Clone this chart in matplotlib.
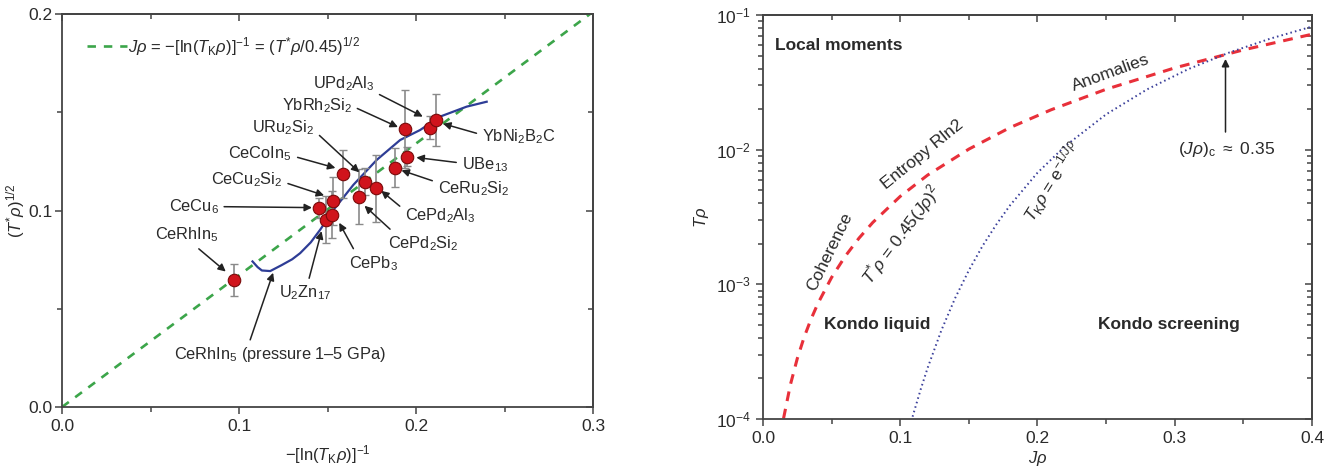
import matplotlib
matplotlib.use('Agg')
import matplotlib.pyplot as plt
from matplotlib.ticker import MultipleLocator, LogLocator, NullFormatter, FormatStrFormatter

plt.rcParams['font.family'] = ['Liberation Sans', 'DejaVu Sans']
plt.rcParams['mathtext.fontset'] = 'custom'
plt.rcParams['mathtext.rm'] = 'Liberation Sans'
plt.rcParams['mathtext.it'] = 'Liberation Sans:italic'
plt.rcParams['mathtext.bf'] = 'Liberation Sans:bold'

# ---------------- Left panel data ----------------
compounds = ['CeRhIn$_5$', 'CeCu$_6$', 'CeCu$_2$Si$_2$', 'U$_2$Zn$_{17}$', 'CePb$_3$',
             'CeCoIn$_5$', 'URu$_2$Si$_2$', 'CePd$_2$Si$_2$', 'CePd$_2$Al$_3$',
             'CeRu$_2$Si$_2$', 'UBe$_{13}$', 'YbRh$_2$Si$_2$', 'UPd$_2$Al$_3$', 'YbNi$_2$B$_2$C']
inv_ln_tk = [0.0970, 0.1454, 0.1533, 0.1492, 0.1524, 0.1590, 0.1712, 0.1680, 0.1772,
             0.1880, 0.1947, 0.1938, 0.2080, 0.2113]
sqrt_tstar = [0.0647, 0.1012, 0.1049, 0.0953, 0.0978, 0.1186, 0.1147, 0.1071, 0.1114,
              0.1219, 0.1275, 0.1415, 0.1422, 0.1461]
sqrt_tstar_err = [0.0083, 0.0050, 0.0120, 0.0120, 0.0120, 0.0120, 0.0070, 0.0140, 0.0170,
                  0.0100, 0.0050, 0.0200, 0.0060, 0.0130]

pressure_x = [0.1076, 0.1105, 0.1129, 0.1176, 0.1240, 0.1300, 0.1345, 0.1405, 0.1458,
              0.1533, 0.1646, 0.1778, 0.1910, 0.2023, 0.2135, 0.2286, 0.2399]
pressure_y = [0.0741, 0.0712, 0.0695, 0.0692, 0.0722, 0.0752, 0.0783, 0.0838, 0.0902,
              0.1003, 0.1131, 0.1258, 0.1359, 0.1410, 0.1478, 0.1529, 0.1554]

guide_x = [0.0, 0.30]
guide_y = [0.0, 0.2012]

# ---------------- Right panel data ----------------
coh_jrho = [0.015, 0.02, 0.025, 0.03, 0.035, 0.04, 0.05, 0.06, 0.07, 0.08, 0.10, 0.12,
            0.15, 0.18, 0.21, 0.25, 0.30, 0.35, 0.40]
coh_trho = [1.01e-4, 1.80e-4, 2.81e-4, 4.05e-4, 5.51e-4, 7.20e-4, 1.125e-3, 1.62e-3,
            2.205e-3, 2.88e-3, 4.50e-3, 6.48e-3, 1.01e-2, 1.46e-2, 1.98e-2, 2.81e-2,
            4.05e-2, 5.51e-2, 7.20e-2]
kondo_jrho = [0.109, 0.115, 0.12, 0.13, 0.14, 0.15, 0.16, 0.17, 0.18, 0.20, 0.22, 0.25,
              0.28, 0.31, 0.34, 0.37, 0.40]
kondo_trho = [1.04e-4, 1.67e-4, 2.40e-4, 4.56e-4, 7.90e-4, 1.27e-3, 1.93e-3, 2.78e-3,
              3.86e-3, 6.74e-3, 1.06e-2, 1.83e-2, 2.81e-2, 3.97e-2, 5.28e-2, 6.70e-2, 8.21e-2]

TXT = '#2a2a2a'
SPINE = '#444444'
TICKFS = 12.5


def style_axes(ax, log=False):
    for s in ax.spines.values():
        s.set_color(SPINE)
        s.set_linewidth(1.3)
    ax.tick_params(which='both', direction='out', labelsize=TICKFS, colors=SPINE,
                   labelcolor=TXT, width=1.1)
    ax.tick_params(which='major', length=5)
    ax.tick_params(which='minor', length=3.5)
    sx = ax.secondary_xaxis('top')
    sx.xaxis.set_major_locator(MultipleLocator(0.1))
    sx.xaxis.set_minor_locator(MultipleLocator(0.05))
    sx.tick_params(which='both', direction='in', labeltop=False, colors=SPINE, width=1.1)
    sx.tick_params(which='major', length=5)
    sx.tick_params(which='minor', length=3.5)
    sx.spines['top'].set_color(SPINE)
    sx.spines['top'].set_linewidth(1.3)
    sy = ax.secondary_yaxis('right')
    if log:
        sy.yaxis.set_major_locator(LogLocator(base=10, numticks=10))
        sy.yaxis.set_minor_locator(LogLocator(base=10, subs=range(2, 10), numticks=20))
    else:
        sy.yaxis.set_major_locator(MultipleLocator(0.1))
        sy.yaxis.set_minor_locator(MultipleLocator(0.05))
    sy.tick_params(which='both', direction='in', labelright=False, colors=SPINE, width=1.1)
    sy.tick_params(which='major', length=5)
    sy.tick_params(which='minor', length=3.5)
    sy.spines['right'].set_color(SPINE)
    sy.spines['right'].set_linewidth(1.3)


fig = plt.figure(figsize=(13.43, 4.70), dpi=100)

# ================= LEFT PANEL =================
ax1 = fig.add_axes([0.0462, 0.134, 0.3954, 0.836])
ax1.plot(guide_x, guide_y, color='#3ca54a', lw=1.9, dashes=(3.2, 3),
         label=r'$J\rho$ = $-$[ln($T_{\mathrm{K}}\rho$)]$^{-1}$ = ($T^{*}\rho$/0.45)$^{1/2}$')
ax1.plot(pressure_x, pressure_y, color='#2e3d96', lw=1.6)
ax1.errorbar(inv_ln_tk, sqrt_tstar, yerr=sqrt_tstar_err, fmt='none', ecolor='#8a8a8a',
             elinewidth=1.2, capsize=3, capthick=1.0, zorder=3)
ax1.plot(inv_ln_tk, sqrt_tstar, 'o', ms=9, mfc='#d0141c', mec='#7a0a0a', mew=0.8,
         zorder=4, ls='none')

ax1.set_xlim(0, 0.3)
ax1.set_ylim(0, 0.2)
ax1.xaxis.set_major_locator(MultipleLocator(0.1))
ax1.xaxis.set_minor_locator(MultipleLocator(0.05))
ax1.yaxis.set_major_locator(MultipleLocator(0.1))
ax1.yaxis.set_minor_locator(MultipleLocator(0.05))
ax1.xaxis.set_major_formatter(FormatStrFormatter('%.1f'))
ax1.yaxis.set_major_formatter(FormatStrFormatter('%.1f'))
style_axes(ax1)
ax1.tick_params(axis='y', which='both', pad=2)
ax1.set_xlabel(r'$-$[ln($T_{\mathrm{K}}\rho$)]$^{-1}$', fontsize=12, color=TXT, labelpad=7)
ax1.set_ylabel(r'($T^{*}\rho$)$^{1/2}$', fontsize=12, color=TXT, labelpad=1)

leg = ax1.legend(loc='upper left', frameon=False, fontsize=12, handlelength=2.4,
                 handletextpad=0.1, bbox_to_anchor=(0.015, 0.99), borderaxespad=0.6)
for t in leg.get_texts():
    t.set_color(TXT)

# (label text, text position, arrow tip, relpos)
label_specs = [
    ('UPd$_2$Al$_3$', (0.159, 0.1647), (0.2045, 0.1475), (0.85, 0.3)),
    ('YbRh$_2$Si$_2$', (0.1439, 0.1532), (0.1905, 0.1422), (1.0, 0.5)),
    ('URu$_2$Si$_2$', (0.1251, 0.1424), (0.1685, 0.1190), (1.0, 0.3)),
    ('CeCoIn$_5$', (0.1120, 0.1288), (0.1552, 0.1215), (1.0, 0.4)),
    ('CeCu$_2$Si$_2$', (0.1044, 0.1156), (0.1488, 0.1075), (1.0, 0.4)),
    ('CeCu$_6$', (0.0743, 0.1020), (0.1420, 0.1015), (1.0, 0.5)),
    ('CeRhIn$_5$', (0.0706, 0.0876), (0.0931, 0.0685), (0.6, 0.0)),
    ('U$_2$Zn$_{17}$', (0.1373, 0.0580), (0.1468, 0.0902), (0.55, 1.0)),
    ('CeRhIn$_5$ (pressure 1\u20135 GPa)', (0.1232, 0.0266), (0.1195, 0.0690), (0.35, 1.0)),
    ('CePb$_3$', (0.1759, 0.0732), (0.1562, 0.0944), (0.15, 1.0)),
    ('CePd$_2$Si$_2$', (0.2041, 0.0834), (0.1703, 0.1029), (0.1, 1.0)),
    ('CePd$_2$Al$_3$', (0.2135, 0.0973), (0.1797, 0.1105), (0.0, 0.8)),
    ('CeRu$_2$Si$_2$', (0.2324, 0.1114), (0.1910, 0.1207), (0.0, 0.8)),
    ('UBe$_{13}$', (0.2389, 0.1232), (0.1994, 0.1271), (0.0, 0.6)),
    ('YbNi$_2$B$_2$C', (0.2580, 0.1376), (0.2145, 0.1444), (0.0, 0.6)),
]
for text, txy, tip, rp in label_specs:
    ax1.annotate(text, xy=tip, xytext=txy, ha='center', va='center', fontsize=11.8,
                 color=TXT, annotation_clip=False,
                 arrowprops=dict(arrowstyle='-|>', color='#222222', lw=1.1,
                                 mutation_scale=11, relpos=rp, shrinkA=2, shrinkB=1))

# ================= RIGHT PANEL =================
ax2 = fig.add_axes([0.5681, 0.1085, 0.4088, 0.8595])
ax2.plot(coh_jrho, coh_trho, color='#e8303a', lw=2.2, dashes=(3.2, 2.6))
ax2.plot(kondo_jrho, kondo_trho, color='#3a3f9a', lw=1.4, dashes=(0.8, 1.6))
ax2.set_yscale('log')
ax2.set_xlim(0, 0.4)
ax2.set_ylim(1e-4, 1e-1)
ax2.xaxis.set_major_locator(MultipleLocator(0.1))
ax2.xaxis.set_minor_locator(MultipleLocator(0.05))
ax2.xaxis.set_major_formatter(FormatStrFormatter('%.1f'))
ax2.yaxis.set_major_locator(LogLocator(base=10, numticks=10))
ax2.yaxis.set_minor_locator(LogLocator(base=10, subs=range(2, 10), numticks=20))
ax2.yaxis.set_minor_formatter(NullFormatter())
style_axes(ax2, log=True)

ax2.set_xlabel(r'$J\rho$', fontsize=12, color=TXT, labelpad=2)
ax2.set_ylabel(r'$T\rho$', fontsize=12, color=TXT, labelpad=4)

FS = 12.5
ax2.text(0.0085, 0.059, 'Local moments', fontsize=FS, fontweight='bold', color=TXT,
         ha='left', va='center')
ax2.text(0.083, 5.0e-4, 'Kondo liquid', fontsize=FS, fontweight='bold', color=TXT,
         ha='center', va='center')
ax2.text(0.296, 5.0e-4, 'Kondo screening', fontsize=FS, fontweight='bold', color=TXT,
         ha='center', va='center')
ax2.text(0.049, 1.76e-3, 'Coherence', fontsize=FS, color=TXT, ha='center', va='center',
         rotation=64, rotation_mode='anchor')
ax2.text(0.101, 2.35e-3, r'$T^{*}\rho$ = 0.45($J\rho$)$^{2}$', fontsize=FS, color=TXT,
         ha='center', va='center', rotation=53, rotation_mode='anchor')
ax2.text(0.116, 9.2e-3, 'Entropy Rln2', fontsize=FS, color=TXT, ha='center', va='center',
         rotation=39, rotation_mode='anchor')
ax2.text(0.2534, 3.72e-2, 'Anomalies', fontsize=FS, color=TXT, ha='center', va='center',
         rotation=20, rotation_mode='anchor')
ax2.text(0.211, 5.8e-3, r'$T_{\mathrm{K}}\rho$ = e$^{-1/J\rho}$', fontsize=FS, color=TXT,
         ha='center', va='center', rotation=58, rotation_mode='anchor')
ax2.text(0.3375, 1.0e-2, r'($J\rho$)$_{\mathrm{c}}$ $\approx$ 0.35', fontsize=FS, color=TXT,
         ha='center', va='center')
ax2.annotate('', xy=(0.337, 0.0495), xytext=(0.337, 0.0129),
             arrowprops=dict(arrowstyle='-|>', color='#222222', lw=1.1, mutation_scale=11))

fig.savefig('out.png', dpi=100)
